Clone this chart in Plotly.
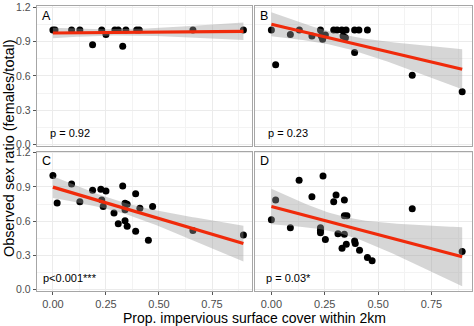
import numpy as np
import plotly.graph_objects as go

# ---- data ----
panel_labels = ["A", "B", "C", "D"]
p_labels = ["p = 0.92", "p = 0.23", "p<0.001***", "p = 0.03*"]

xA = [0.0, 0.01, 0.088, 0.127, 0.187, 0.23, 0.25, 0.292, 0.308, 0.329, 0.344, 0.395, 0.407, 0.66, 0.898]
yA = [1.0, 1.0, 1.0, 1.0, 0.871, 1.0, 0.962, 1.0, 1.0, 0.86, 1.0, 1.0, 1.0, 1.0, 1.0]

xB = [0.0, 0.02, 0.089, 0.131, 0.19, 0.23, 0.234, 0.24, 0.253, 0.292, 0.308, 0.33, 0.35,
      0.336, 0.347, 0.39, 0.39, 0.41, 0.45, 0.66, 0.894]
yB = [1.0, 0.697, 0.962, 1.0, 0.948, 1.0, 0.948, 0.92, 0.957, 1.0, 1.0, 1.0, 1.0,
      0.948, 0.934, 0.805, 1.0, 1.0, 1.0, 0.606, 0.463]

xC = [0.0, 0.02, 0.088, 0.127, 0.187, 0.226, 0.25, 0.23, 0.237, 0.288, 0.308, 0.329,
      0.34, 0.35, 0.34, 0.34, 0.35, 0.39, 0.39, 0.41, 0.45, 0.47, 0.66, 0.898]
yC = [1.0, 0.76, 0.927, 0.771, 0.872, 0.88, 0.864, 0.786, 0.728, 0.671, 0.578, 0.909,
      0.757, 0.749, 0.70, 0.604, 0.555, 0.84, 0.512, 0.714, 0.432, 0.728, 0.518, 0.478]

xD = [0.0, 0.02, 0.089, 0.13, 0.19, 0.23, 0.23, 0.23, 0.242, 0.253, 0.292, 0.303, 0.312,
      0.331, 0.342, 0.342, 0.354, 0.342, 0.351, 0.39, 0.393, 0.413, 0.45, 0.472, 0.66, 0.894]
yD = [0.613, 0.786, 0.541, 0.958, 0.814, 0.541, 0.518, 0.498, 0.996, 0.44, 0.771, 0.829, 0.49,
      0.363, 0.786, 0.648, 0.648, 0.484, 0.397, 0.426, 0.403, 0.345, 0.282, 0.253, 0.708, 0.334]

xs = [xA, xB, xC, xD]
ys = [yA, yB, yC, yD]

x_ticks = [0.0, 0.25, 0.5, 0.75]
y_ticks = [0.0, 0.3, 0.6, 0.9, 1.2]

RED = "#F02A0A"
BAND = "rgba(153,153,153,0.4)"
GRID = "#EBEBEB"
MINOR = "#F3F3F3"
BORDER = "#A6A6A6"
TICKC = "#4D4D4D"
FONT = "Liberation Sans, Arial, sans-serif"


def t975(df):
    z = 1.959964
    return z + (z**3 + z) / (4 * df) + (5 * z**5 + 16 * z**3 + 3 * z) / (96 * df**2)


def lm_fit(x, y):
    x = np.asarray(x, float)
    y = np.asarray(y, float)
    n = len(x)
    b, a = np.polyfit(x, y, 1)
    resid = y - (a + b * x)
    s = np.sqrt(np.sum(resid**2) / (n - 2))
    xg = np.linspace(x.min(), x.max(), 80)
    fit = a + b * xg
    se = s * np.sqrt(1.0 / n + (xg - x.mean())**2 / np.sum((x - x.mean())**2))
    t = t975(n - 2)
    return xg, fit, fit - t * se, fit + t * se


fig = go.Figure()

x_domains = [[0.0, 0.495], [0.502, 1.0], [0.0, 0.495], [0.502, 1.0]]
y_domains = [[0.508, 1.0], [0.508, 1.0], [0.0, 0.489], [0.0, 0.489]]

for i in range(4):
    ax = "" if i == 0 else str(i + 1)
    xr, yr = "x" + ax, "y" + ax
    fig.add_trace(go.Scatter(x=xs[i], y=ys[i], mode="markers", xaxis=xr, yaxis=yr,
                             marker=dict(color="black", size=7), showlegend=False,
                             hoverinfo="skip"))
    xg, fit, lo, hi = lm_fit(xs[i], ys[i])
    fig.add_trace(go.Scatter(x=np.concatenate([xg, xg[::-1]]),
                             y=np.concatenate([hi, lo[::-1]]),
                             fill="toself", fillcolor=BAND, line=dict(width=0),
                             mode="lines", xaxis=xr, yaxis=yr, showlegend=False,
                             hoverinfo="skip"))
    fig.add_trace(go.Scatter(x=xg, y=fit, mode="lines", xaxis=xr, yaxis=yr,
                             line=dict(color=RED, width=3.2), showlegend=False,
                             hoverinfo="skip"))

    bottom = i >= 2
    left = i % 2 == 0
    fig.layout["xaxis" + ax] = dict(
        domain=x_domains[i], range=[-0.075, 0.94], anchor=yr,
        tickvals=x_ticks, ticktext=["%.2f" % v for v in x_ticks],
        showticklabels=bottom, ticks="outside" if bottom else "", ticklen=3,
        tickcolor="#555555",
        tickfont=dict(size=11, color=TICKC, family=FONT),
        showgrid=True, gridcolor=GRID, gridwidth=1,
        minor=dict(showgrid=True, gridcolor=MINOR, gridwidth=0.6, dtick=0.125, tick0=0.125),
        showline=True, mirror=True, linecolor=BORDER, linewidth=1.4, zeroline=False,
    )
    fig.layout["yaxis" + ax] = dict(
        domain=y_domains[i], range=[-0.013, 1.21], anchor=xr,
        tickvals=y_ticks, ticktext=["%.1f" % v for v in y_ticks],
        showticklabels=left, ticks="outside" if left else "", ticklen=3,
        tickcolor="#555555",
        tickfont=dict(size=10.5, color=TICKC, family=FONT),
        showgrid=True, gridcolor=GRID, gridwidth=1,
        minor=dict(showgrid=True, gridcolor=MINOR, gridwidth=0.6, dtick=0.15, tick0=0.15),
        showline=True, mirror=True, linecolor=BORDER, linewidth=1.4, zeroline=False,
    )
    fig.add_annotation(text=panel_labels[i], xref=xr + " domain", yref=yr + " domain",
                       x=0.012, y=0.995, xanchor="left", yanchor="top", showarrow=False,
                       font=dict(size=12.5, color="black", family=FONT))
    fig.add_annotation(text=p_labels[i], xref=xr, yref=yr, x=0.08, y=0.1,
                       xanchor="center", yanchor="middle", showarrow=False,
                       font=dict(size=11, color="black", family=FONT))

fig.add_annotation(text="Observed sex ratio (females/total)", xref="paper", yref="paper",
                   x=0, y=0.5, xshift=-28.5, textangle=-90, showarrow=False,
                   xanchor="center", yanchor="middle",
                   font=dict(size=14.5, color="black", family=FONT))
fig.add_annotation(text="Prop. impervious surface cover within 2km", xref="paper", yref="paper",
                   x=0.5, y=0, yshift=-16.5, showarrow=False, xanchor="center", yanchor="top",
                   font=dict(size=14, color="black", family=FONT))

fig.update_layout(width=474, height=326, margin=dict(l=37, r=1, t=3, b=35),
                  plot_bgcolor="white", paper_bgcolor="white",
                  font=dict(family=FONT))

fig.write_html("out.html")
